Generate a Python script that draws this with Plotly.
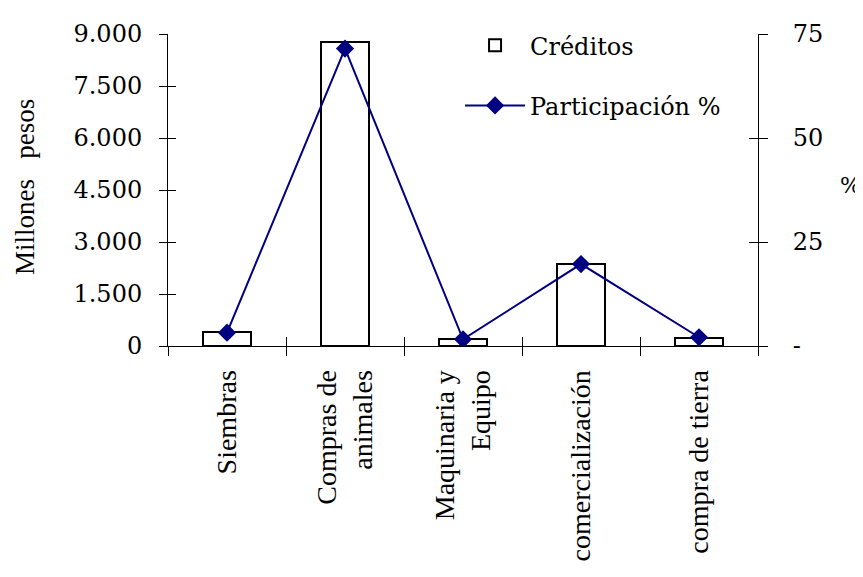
#Creditos por destino: barras (millones de pesos) y linea de participacion %
import plotly.graph_objects as go

categorias = ["Siembras", "Compras de<br>animales", "Maquinaria y<br>Equipo",
              "comercialización", "compra de tierra"]
creditos = [390, 8760, 190, 2360, 245]
participacion = [3.2, 71.5, 1.6, 19.7, 2.1]

y_ticks = [0, 1500, 3000, 4500, 6000, 7500, 9000]
y_ticktext = ["0", "1.500", "3.000", "4.500", "6.000", "7.500", "9.000"]
y2_ticks = [0, 25, 50, 75]
y2_ticktext = ["-", "25", "50", "75"]

num_font = dict(family="DejaVu Serif", size=24, color="black")
cat_font = dict(family="Liberation Serif", size=28, color="black")

fig = go.Figure()

fig.add_trace(go.Bar(
    x=categorias, y=creditos, name="Créditos", width=0.41,
    marker=dict(color="white", line=dict(color="black", width=2)),
    legendgroup="a",
))
fig.add_trace(go.Scatter(
    x=categorias, y=participacion, name="Participación %", yaxis="y2",
    mode="lines+markers",
    line=dict(color="#000080", width=2),
    marker=dict(symbol="diamond", size=14, color="#000080"),
    legendgroup="b",
))
# trazas vacias solo para dibujar la parte interior de las marcas (cruzadas)
fig.add_trace(go.Scatter(x=categorias, y=[None] * 5, xaxis="x2", yaxis="y3",
                         showlegend=False, hoverinfo="skip"))
fig.add_trace(go.Scatter(x=categorias, y=[None] * 5, xaxis="x2", yaxis="y4",
                         showlegend=False, hoverinfo="skip"))

common_x = dict(type="category", categoryarray=categorias, range=[-0.5, 4.5],
                tickson="boundaries", ticklen=9, tickcolor="black", showgrid=False)

# el body de la pagina tiene 8px de margen: figura un poco menor para que quepa
fig.update_layout(
    width=855, height=569,
    margin=dict(l=160, r=105, t=20, b=231),
    plot_bgcolor="white", paper_bgcolor="white",
    bargap=0,
    xaxis=dict(**common_x, ticks="outside", showline=True, linecolor="black",
               tickangle=-90, tickfont=cat_font, ticklabelstandoff=12),
    xaxis2=dict(**common_x, ticks="inside", overlaying="x", anchor="y3",
                showticklabels=False, showline=False),
    yaxis=dict(range=[0, 9000], tickvals=y_ticks, ticktext=y_ticktext,
               ticks="outside", ticklen=8, tickcolor="black", showline=True,
               linecolor="black", tickfont=num_font, showgrid=False,
               zeroline=False, ticklabelstandoff=12),
    yaxis2=dict(range=[0, 75], tickvals=y2_ticks, ticktext=y2_ticktext,
                overlaying="y", side="right", ticks="outside", ticklen=9,
                tickcolor="black", showline=True, linecolor="black",
                tickfont=num_font, showgrid=False, zeroline=False,
                ticklabelstandoff=20),
    yaxis3=dict(range=[0, 9000], tickvals=y_ticks, overlaying="y", side="left",
                anchor="x2", ticks="inside", ticklen=8, tickcolor="black",
                showticklabels=False, showgrid=False, zeroline=False),
    yaxis4=dict(range=[0, 75], tickvals=y2_ticks, overlaying="y", side="right",
                anchor="x2", ticks="inside", ticklen=9, tickcolor="black",
                showticklabels=False, showgrid=False, zeroline=False),
    legend=dict(x=0.495, y=1.035, xanchor="left", yanchor="top",
                bgcolor="rgba(0,0,0,0)", font=dict(family="DejaVu Serif", size=24,
                                                   color="black"),
                tracegroupgap=26, itemwidth=60),
    showlegend=True,
)

fig.add_annotation(text="Millones\u00a0\u00a0\u00a0pesos", textangle=-90,
                   xref="paper", yref="paper", x=-0.242, y=0.51,
                   xanchor="center", yanchor="middle",
                   showarrow=False, font=dict(family="Liberation Serif", size=27,
                                              color="black"))
fig.add_annotation(text="%", xref="paper", yref="paper", x=1.156, y=0.513,
                   xanchor="center", yanchor="middle",
                   showarrow=False, font=dict(family="DejaVu Serif", size=22,
                                              color="black"))

fig.write_html("out.html")
